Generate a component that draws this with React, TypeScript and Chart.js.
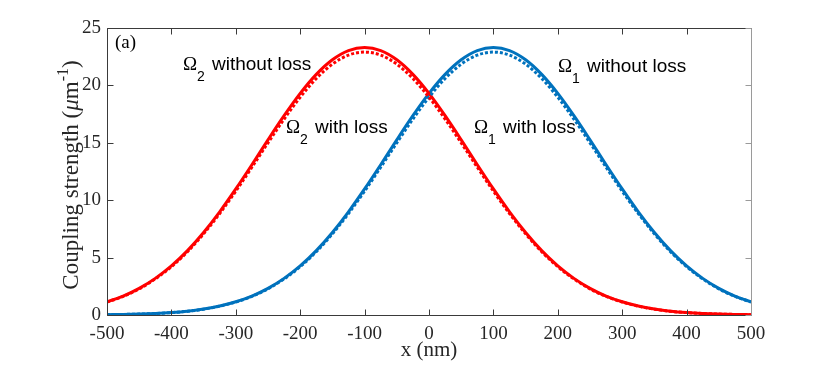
import { useEffect, useRef } from "react";
import { Chart, registerables } from "chart.js";

Chart.register(...registerables);

// x positions (nm)
const xValues = [
  -500, -475, -450, -425, -400, -375, -350, -325, -300, -275, -250, -225, -200, -175, -150, -125, -100,
  -75, -50, -25, 0, 25, 50, 75, 100, 125, 150, 175, 200, 225, 250, 275, 300, 325, 350, 375, 400, 425,
  450, 475, 500,
];

// Omega_2 (red)
const omega2WithoutLoss = [
  1.15, 1.65, 2.32, 3.19, 4.28, 5.61, 7.19, 8.99, 10.98, 13.09, 15.26, 17.36, 19.3, 20.96, 22.23, 23.03,
  23.3, 23.03, 22.23, 20.96, 19.3, 17.36, 15.26, 13.09, 10.98, 8.99, 7.19, 5.61, 4.28, 3.19, 2.32, 1.65,
  1.15, 0.78, 0.52, 0.33, 0.21, 0.13, 0.08, 0.05, 0.03,
];
const omega2WithLoss = [
  1.13, 1.62, 2.28, 3.14, 4.21, 5.51, 7.07, 8.84, 10.79, 12.87, 15.0, 17.07, 18.97, 20.6, 21.85, 22.64,
  22.9, 22.64, 21.85, 20.6, 18.97, 17.07, 15.0, 12.87, 10.79, 8.84, 7.07, 5.51, 4.21, 3.14, 2.28, 1.62,
  1.13, 0.77, 0.51, 0.32, 0.21, 0.13, 0.08, 0.05, 0.03,
];

// Omega_1 (blue)
const omega1WithoutLoss = [
  0.03, 0.05, 0.08, 0.13, 0.21, 0.33, 0.52, 0.78, 1.15, 1.65, 2.32, 3.19, 4.28, 5.61, 7.19, 8.99, 10.98,
  13.09, 15.26, 17.36, 19.3, 20.96, 22.23, 23.03, 23.3, 23.03, 22.23, 20.96, 19.3, 17.36, 15.26, 13.09,
  10.98, 8.99, 7.19, 5.61, 4.28, 3.19, 2.32, 1.65, 1.15,
];
const omega1WithLoss = [
  0.03, 0.05, 0.08, 0.13, 0.21, 0.32, 0.51, 0.77, 1.13, 1.62, 2.28, 3.14, 4.21, 5.51, 7.07, 8.84, 10.79,
  12.87, 15.0, 17.07, 18.97, 20.6, 21.85, 22.64, 22.9, 22.64, 21.85, 20.6, 18.97, 17.07, 15.0, 12.87,
  10.79, 8.84, 7.07, 5.51, 4.21, 3.14, 2.28, 1.62, 1.13,
];

const xTickValues = [-500, -400, -300, -200, -100, 0, 100, 200, 300, 400, 500];
const yTickValues = [0, 5, 10, 15, 20, 25];

const RED = "#ff0000";
const BLUE = "#0072bd";
const SERIF = "'Liberation Serif', 'Times New Roman', serif";
const SANS = "'Liberation Sans', Arial, sans-serif";

const pts = (ys: number[]) => xValues.map((x, i) => ({ x, y: ys[i] }));

const framePlugin = {
  id: "frame",
  afterDatasetsDraw(chart: any) {
    const { ctx, chartArea } = chart;
    const { left, right, top, bottom } = chartArea;
    const xs = chart.scales.x;
    const ys = chart.scales.y;
    ctx.save();
    ctx.lineWidth = 1;
    ctx.strokeStyle = "#3a3a3a";
    const L = Math.round(left) + 0.5;
    const B = Math.round(bottom) + 0.5;
    const T = Math.round(top) + 0.5;
    const R = Math.round(right) + 0.5;
    ctx.beginPath();
    ctx.moveTo(L, B);
    ctx.lineTo(R, B);
    ctx.moveTo(L, T);
    ctx.lineTo(R, T);
    ctx.moveTo(L, T);
    ctx.lineTo(L, B);
    ctx.stroke();
    // ticks
    ctx.beginPath();
    for (const v of xTickValues) {
      const px = Math.round(xs.getPixelForValue(v)) + 0.5;
      ctx.moveTo(px, B);
      ctx.lineTo(px, B - 6);
      ctx.moveTo(px, T);
      ctx.lineTo(px, T + 6);
    }
    for (const v of yTickValues) {
      const py = Math.round(ys.getPixelForValue(v)) + 0.5;
      ctx.moveTo(L, py);
      ctx.lineTo(L + 6, py);
    }
    ctx.stroke();
    ctx.strokeStyle = "#9a9a9a";
    ctx.beginPath();
    ctx.moveTo(R, T);
    ctx.lineTo(R, B);
    for (const v of yTickValues) {
      const py = Math.round(ys.getPixelForValue(v)) + 0.5;
      ctx.moveTo(R, py);
      ctx.lineTo(R - 6, py);
    }
    ctx.stroke();
    ctx.restore();
  },
};

function drawLabel(ctx: CanvasRenderingContext2D, x: number, y: number, sub: string, text: string) {
  ctx.fillStyle = "#000";
  ctx.textAlign = "left";
  ctx.textBaseline = "alphabetic";
  ctx.font = `19px ${SERIF}`;
  ctx.fillText("\u03A9", x, y);
  ctx.font = `14px ${SANS}`;
  ctx.fillText(sub, x + 14, y + 11);
  ctx.font = `19px ${SANS}`;
  ctx.fillText(text, x + 29, y);
}

const textPlugin = {
  id: "texts",
  afterDraw(chart: any) {
    const { ctx, chartArea } = chart;
    ctx.save();
    drawLabel(ctx, 183, 70, "2", "without loss");
    drawLabel(ctx, 286, 133, "2", "with loss");
    drawLabel(ctx, 474, 133, "1", "with loss");
    drawLabel(ctx, 558, 72, "1", "without loss");

    ctx.fillStyle = "#000";
    ctx.font = `19px ${SERIF}`;
    ctx.textAlign = "left";
    ctx.textBaseline = "alphabetic";
    ctx.fillText("(a)", 115, 48);

    // x title
    ctx.fillStyle = "#262626";
    ctx.font = `21px ${SERIF}`;
    ctx.textAlign = "center";
    ctx.fillText("x (nm)", (chartArea.left + chartArea.right) / 2, 356);

    // y title
    const parts = [
      { t: "Coupling strength (", f: `23px ${SERIF}`, dy: 0 },
      { t: "\u03BC", f: `italic 23px ${SERIF}`, dy: 0 },
      { t: "m", f: `23px ${SERIF}`, dy: 0 },
      { t: "-1", f: `16px ${SERIF}`, dy: -10 },
      { t: ")", f: `23px ${SERIF}`, dy: 0 },
    ];
    let total = 0;
    for (const p of parts) {
      ctx.font = p.f;
      total += ctx.measureText(p.t).width;
    }
    ctx.translate(78, 175);
    ctx.rotate(-Math.PI / 2);
    ctx.textAlign = "left";
    let cx = -total / 2;
    for (const p of parts) {
      ctx.font = p.f;
      ctx.fillText(p.t, cx, p.dy);
      cx += ctx.measureText(p.t).width;
    }
    ctx.restore();
  },
};

export default function App() {
  const ref = useRef<HTMLCanvasElement | null>(null);
  useEffect(() => {
    if (!ref.current) return;
    const lineDs = (label: string, ys: number[], color: string, dotted: boolean) => ({
      label,
      data: pts(ys),
      borderColor: color,
      backgroundColor: color,
      borderWidth: 3,
      borderDash: dotted ? [3, 2] : [],
      pointRadius: 0,
      fill: false,
      cubicInterpolationMode: "monotone" as const,
    });
    const chart = new Chart(ref.current, {
      type: "line",
      data: {
        datasets: [
          lineDs("Ω2 with loss", omega2WithLoss, RED, true),
          lineDs("Ω1 with loss", omega1WithLoss, BLUE, true),
          lineDs("Ω2 without loss", omega2WithoutLoss, RED, false),
          lineDs("Ω1 without loss", omega1WithoutLoss, BLUE, false),
        ],
      },
      options: {
        responsive: false,
        animation: false,
        layout: { padding: { left: 0, right: 79, top: 28, bottom: 0 } },
        plugins: { legend: { display: false }, tooltip: { enabled: false } },
        scales: {
          x: {
            type: "linear",
            min: -500,
            max: 500,
            grid: { display: false, drawTicks: false },
            border: { display: false },
            ticks: {
              stepSize: 100,
              padding: 8,
              color: "#262626",
              font: { family: SERIF, size: 19 },
              maxRotation: 0,
              autoSkip: false,
            },
            afterFit(s: any) {
              s.height = 51;
              s.paddingLeft = 0;
              s.paddingRight = 0;
            },
          },
          y: {
            type: "linear",
            min: 0,
            max: 25,
            grid: { display: false, drawTicks: false },
            border: { display: false },
            ticks: {
              stepSize: 5,
              padding: 6,
              color: "#262626",
              font: { family: SERIF, size: 19 },
            },
            afterFit(s: any) {
              s.width = 107;
              s.paddingTop = 0;
              s.paddingBottom = 0;
            },
          },
        },
      },
      plugins: [framePlugin, textPlugin],
    });
    return () => chart.destroy();
  }, []);
  return (
    <div style={{ position: "fixed", left: 0, top: 0, width: 830, height: 366, background: "#fff" }}>
      <canvas ref={ref} width={830} height={366} style={{ display: "block" }} />
    </div>
  );
}
